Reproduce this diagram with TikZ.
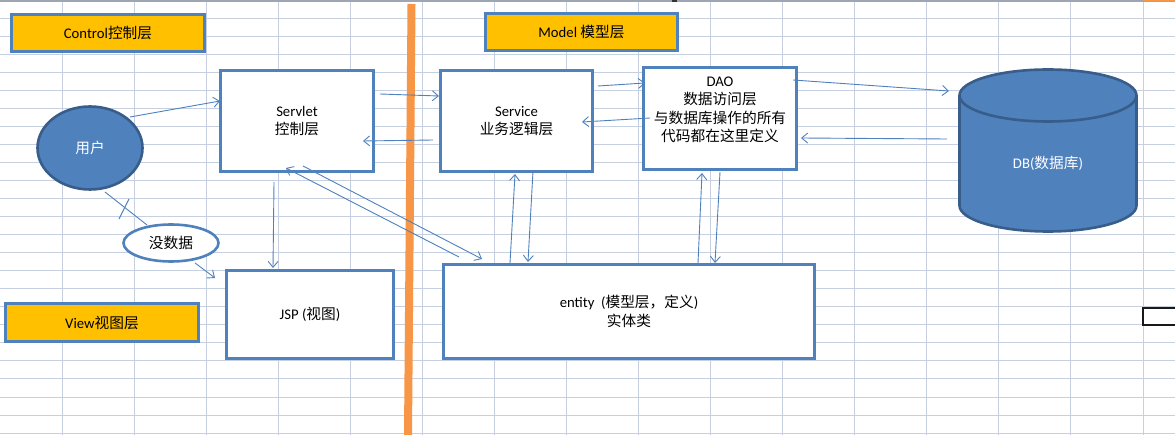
\documentclass[tikz,border=0pt]{standalone}
\usepackage{fontspec}
\setmainfont{Carlito}
\newfontfamily\cjk{Noto Sans CJK SC}
\usetikzlibrary{arrows.meta,shapes.geometric,calc}
\definecolor{xlblue}{HTML}{4F81BD}
\definecolor{xldark}{HTML}{385D8A}
\definecolor{xlgold}{HTML}{FFC000}
\definecolor{xlorange}{HTML}{F79646}
\definecolor{xlgrid}{HTML}{C6D0E1}
\newcommand{\zh}[1]{{\cjk #1}}
\begin{document}
\begin{tikzpicture}[x=1pt,y=-1pt,
  font=\fontsize{14.7}{18.5}\selectfont,
  box/.style={draw=xlblue,line width=2.6pt,fill=white,inner sep=0pt,align=center},
  tag/.style={box,fill=xlgold},
  conn/.style={draw=xlblue,line width=0.9pt,-{Straight Barb[length=6pt,width=10pt]}},
  plainline/.style={draw=xlblue,line width=0.9pt},
  gridline/.style={draw=xlgrid,line width=1pt}]
\useasboundingbox (0,0) rectangle (1175,435);
\fill[white] (0,0) rectangle (1175,435);
% spreadsheet grid
\foreach \i in {0,...,15} \draw[gridline] ({62+72.07*\i},0) -- ({62+72.07*\i},435);
\foreach \j in {0,...,23} \draw[gridline] (0,{19+18*\j}) -- (1175,{19+18*\j});
\draw[draw=xlgrid!80!black,line width=1.5pt] (0,1) -- (1175,1);
\fill[black!80] (672,0) rectangle (677,2);
\fill[xlorange] (1143,0) rectangle (1175,1.5);
\draw[black!90,line width=2pt] (1175,308) -- (1143,308) -- (1143,325) -- (1175,325);
% orange divider
\draw[xlorange,line width=8pt] (411.5,4) -- (408,435);
% layer tags
\node[tag,minimum width=193,minimum height=37] (ctl) at (108,33) {Control\zh{控制层}};
\node[tag,minimum width=192,minimum height=37] (mdl) at (581.5,32) {Model \zh{模型层}};
\node[tag,minimum width=193,minimum height=38] (view) at (102,322.5) {View\zh{视图层}};
% boxes
\node[box,minimum width=153,minimum height=101] (servlet) at (297,121) {Servlet\\\zh{控制层}};
\node[box,minimum width=152,minimum height=101] (service) at (516.5,121) {Service\\\zh{业务逻辑层}};
\node[box,minimum width=153,minimum height=102] (dao) at (720,118.5) {};
\node[align=center,inner sep=0pt] (daotxt) at (720,110) {DAO\\\zh{数据访问层}\\\zh{与数据库操作的所有}\\\zh{代码都在这里定义}};
\node[box,minimum width=167,minimum height=88] (jsp) at (310,314.5) {JSP (\zh{视图})};
\node[box,minimum width=371,minimum height=94] (entity) at (629,311.5) {entity\ \ (\zh{模型层，定义})\\\zh{实体类}};
% user ellipse
\node[ellipse,draw=xldark,fill=xlblue,line width=2.6pt,inner sep=0pt,minimum width=105,minimum height=83,text=white] (user) at (90,148) {\zh{用户}};
\node[ellipse,draw=xlblue,fill=white,line width=2.6pt,inner sep=0pt,minimum width=95,minimum height=37] (nodata) at (171,243) {\zh{没数据}};
% database cylinder
\filldraw[fill=xlblue,draw=xldark,line width=2.6pt] (1048,205.5) ellipse [x radius=88.5,y radius=26];
\fill[xlblue] (959.5,95.5) rectangle (1136.5,205.5);
\draw[xldark,line width=2.6pt] (959.5,95.5) -- (959.5,205.5) (1136.5,95.5) -- (1136.5,205.5);
\filldraw[fill=xlblue,draw=xldark,line width=2.6pt] (1048,95.5) ellipse [x radius=88.5,y radius=26];
\node[inner sep=0pt,minimum width=177,minimum height=137,text=white] (db) at (1048,163) {DB(\zh{数据库})};
% connectors
\draw[conn] ([shift={(40,-31)}]user.center) -- ([shift={(-77,-20)}]servlet.center);
\draw[conn] ([shift={(83,-27)}]servlet.center) -- ([shift={(-77.5,-25)}]service.center);
\draw[conn] ([shift={(-83.5,19)}]service.center) -- ([shift={(66,20)}]servlet.center);
\draw[conn] ([shift={(81.5,-35)}]service.center) -- ([shift={(-75,-35.5)}]dao.center);
\draw[conn] ([shift={(-70,-0.5)}]dao.center) -- ([shift={(65.5,1)}]service.center);
\draw[conn] ([shift={(73,-38.5)}]dao.center) -- ([shift={(-99,-72)}]db.center);
\draw[conn] ([shift={(-101,-24)}]db.center) -- ([shift={(81,19.5)}]dao.center);
\draw[conn] ([shift={(-23,61)}]servlet.center) -- ([shift={(-37,-46.5)}]jsp.center);
\draw[conn] ([shift={(-170,-54.5)}]entity.center) -- ([shift={(-11,47)}]servlet.center);
\draw[conn] ([shift={(6,45)}]servlet.center) -- ([shift={(-147,-52.5)}]entity.center);
\draw[conn] ([shift={(-119,-48.5)}]entity.center) -- ([shift={(-1.5,53)}]service.center);
\draw[conn] ([shift={(16.5,50)}]service.center) -- ([shift={(-101,-49.5)}]entity.center);
\draw[conn] ([shift={(69,-48.5)}]entity.center) -- ([shift={(-18,54.5)}]dao.center);
\draw[conn] ([shift={(0,53.5)}]dao.center) -- ([shift={(86,-48.5)}]entity.center);
\draw[plainline] ([shift={(15,44)}]user.center) -- ([shift={(-24,-18)}]nodata.center);
\draw[conn] ([shift={(24,20)}]nodata.center) -- ([shift={(-95,-36.5)}]jsp.center);
\draw[plainline] (129,199) -- (119,219);
\end{tikzpicture}
\end{document}
